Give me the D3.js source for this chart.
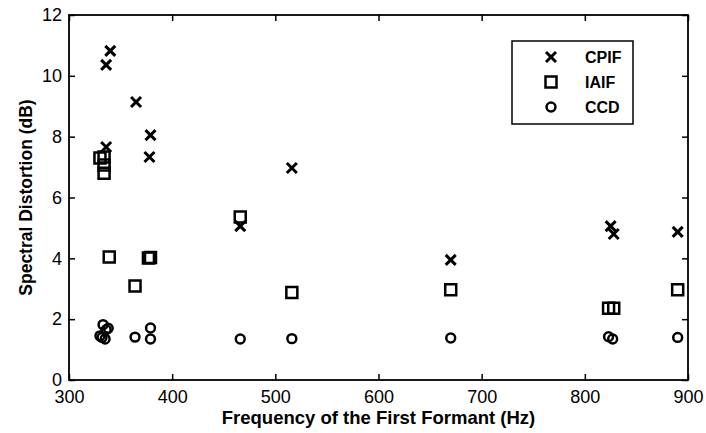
<!DOCTYPE html>
<html>
<head>
<meta charset="utf-8">
<script src="https://cdn.jsdelivr.net/npm/d3@7"></script>
<style>
  body { margin: 0; background: #fff; }
  svg { font-family: "Liberation Sans", Arial, sans-serif; }
  .tick text { font-size: 18px; fill: #000; }
</style>
</head>
<body>
<svg id="chart" width="706" height="433"></svg>
<script>
// first formant frequency (Hz) and spectral distortion (dB) per method
const cpifFreq = [336, 336, 340, 365, 378, 379, 466, 516, 670, 825, 828, 890];
const cpifSD   = [7.66, 10.36, 10.82, 9.14, 7.33, 8.05, 5.06, 6.97, 3.95, 5.06, 4.80, 4.87];

const iaifFreq = [330, 334, 334, 334, 339, 364, 377, 379, 466, 516, 670, 823, 828, 890];
const iaifSD   = [7.30, 7.33, 7.07, 6.80, 4.04, 3.09, 4.01, 4.03, 5.36, 2.88, 2.97, 2.36, 2.36, 2.97];

const ccdFreq = [330, 332, 333, 335, 336, 338, 364, 379, 379, 466, 516, 670, 823, 827, 890];
const ccdSD   = [1.45, 1.40, 1.82, 1.35, 1.65, 1.70, 1.41, 1.71, 1.35, 1.35, 1.36, 1.38, 1.42, 1.35, 1.40];

const xTicks = [300, 400, 500, 600, 700, 800, 900];
const yTicks = [0, 2, 4, 6, 8, 10, 12];
const legendNames = ["CPIF", "IAIF", "CCD"];

const margin = { left: 69, right: 18, top: 15, bottom: 53 };
const W = 706, H = 433;

const svg = d3.select("#chart");

const x = d3.scaleLinear().domain([300, 900]).range([margin.left, W - margin.right]);
const y = d3.scaleLinear().domain([0, 12]).range([H - margin.bottom, margin.top]);

// ticks point inward on all four sides
svg.append("g")
  .attr("transform", `translate(0,${y(0)})`)
  .call(d3.axisBottom(x).tickValues(xTicks).tickSize(-6).tickPadding(10).tickFormat(d3.format("d")))
  .call(g => g.select(".domain").remove());
svg.append("g")
  .attr("transform", `translate(${x(300)},0)`)
  .call(d3.axisLeft(y).tickValues(yTicks).tickSize(-6).tickPadding(7).tickFormat(d3.format("d")))
  .call(g => g.select(".domain").remove());
svg.append("g")
  .attr("transform", `translate(0,${y(12)})`)
  .call(d3.axisTop(x).tickValues(xTicks).tickSize(-6).tickFormat(""))
  .call(g => g.select(".domain").remove());
svg.append("g")
  .attr("transform", `translate(${x(900)},0)`)
  .call(d3.axisRight(y).tickValues(yTicks).tickSize(-6).tickFormat(""))
  .call(g => g.select(".domain").remove());

svg.selectAll(".tick line").attr("stroke", "#000").attr("stroke-width", 1.5);

svg.append("rect")
  .attr("x", x(300)).attr("y", y(12))
  .attr("width", x(900) - x(300)).attr("height", y(0) - y(12))
  .attr("fill", "none").attr("stroke", "#000").attr("stroke-width", 1.8);

// marker shapes
const crossPath = "M-5,-5L5,5M-5,5L5,-5";
const squarePath = "M-5.5,-5.5H5.5V5.5H-5.5Z";
const circlePath = d3.symbol(d3.symbolCircle, 62)();

function drawMarks(freq, sd, path, width) {
  svg.append("g").selectAll("path")
    .data(freq.map((f, i) => [f, sd[i]]))
    .join("path")
      .attr("transform", d => `translate(${x(d[0])},${y(d[1])})`)
      .attr("d", path)
      .attr("fill", "none")
      .attr("stroke", "#000")
      .attr("stroke-width", width);
}

drawMarks(ccdFreq, ccdSD, circlePath, 2.5);
drawMarks(iaifFreq, iaifSD, squarePath, 2.5);
drawMarks(cpifFreq, cpifSD, crossPath, 3);

// axis titles
svg.append("text")
  .attr("x", (x(300) + x(900)) / 2).attr("y", 424)
  .attr("text-anchor", "middle")
  .attr("font-weight", "bold").attr("font-size", 18.5)
  .text("Frequency of the First Formant (Hz)");

svg.append("text")
  .attr("transform", `translate(32,${(y(0) + y(12)) / 2}) rotate(-90)`)
  .attr("text-anchor", "middle")
  .attr("font-weight", "bold").attr("font-size", 17.5)
  .text("Spectral Distortion (dB)");

// legend
const legend = svg.append("g");
legend.append("rect")
  .attr("x", 512).attr("y", 41).attr("width", 121).attr("height", 83)
  .attr("fill", "#fff").attr("stroke", "#000").attr("stroke-width", 1.5);

const legendPaths = [crossPath, squarePath, circlePath];
const legendWidths = [3, 2.5, 2.5];
legendNames.forEach((name, i) => {
  const ly = 57 + i * 25;
  legend.append("path")
    .attr("transform", `translate(551,${ly})`)
    .attr("d", legendPaths[i])
    .attr("fill", "none").attr("stroke", "#000").attr("stroke-width", legendWidths[i]);
  legend.append("text")
    .attr("x", 585).attr("y", ly + 6)
    .attr("font-weight", "bold").attr("font-size", 16)
    .text(name);
});
</script>
</body>
</html>
